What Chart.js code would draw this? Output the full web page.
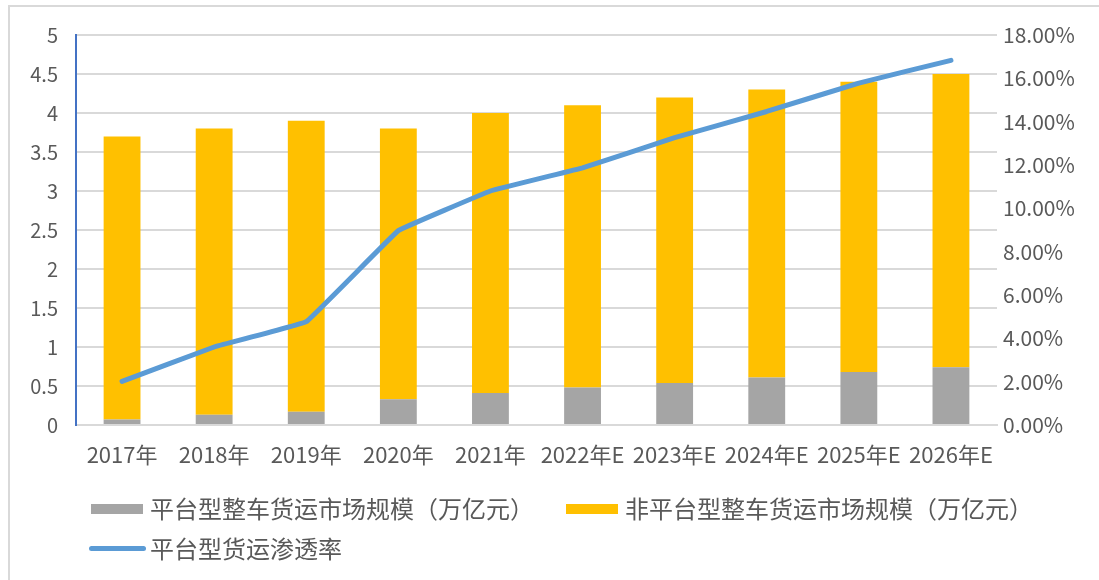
<!DOCTYPE html>
<html>
<head>
<meta charset="utf-8">
<script src="https://cdn.jsdelivr.net/npm/chart.js@4.4.0/dist/chart.umd.min.js"></script>
<style>
  html, body { margin: 0; padding: 0; background: #fff; }
  #wrap { position: relative; width: 1099px; height: 580px; overflow: hidden; }
  #frame { position: absolute; left: 8px; top: 5px; width: 1200px; height: 700px; border: 2px solid #d9d9d9; box-sizing: border-box; }
  #c { position: absolute; left: 0; top: 0; }
  .lg { position: absolute; font-family: "Noto Sans CJK SC", sans-serif; font-size: 24px; color: #595959; line-height: 26px; white-space: nowrap; }
  .sw { position: absolute; }
</style>
</head>
<body>
<div id="wrap">
  <div id="frame"></div>
  <canvas id="c" width="1099" height="580"></canvas>
  <div class="sw" style="left:91px;top:504px;width:52px;height:10px;background:#a5a5a5"></div>
  <div class="lg" style="left:150px;top:495px">平台型整车货运市场规模（万亿元）</div>
  <div class="sw" style="left:566px;top:504px;width:52px;height:10px;background:#ffc000"></div>
  <div class="lg" style="left:625px;top:495px">非平台型整车货运市场规模（万亿元）</div>
  <div class="sw" style="left:89px;top:546px;width:57px;height:5px;border-radius:3px;background:#5b9bd5"></div>
  <div class="lg" style="left:150px;top:535px">平台型货运渗透率</div>
</div>
<script>
const years = ['2017年', '2018年', '2019年', '2020年', '2021年', '2022年E', '2023年E', '2024年E', '2025年E', '2026年E'];
const platformSize = [0.07, 0.13, 0.17, 0.33, 0.41, 0.48, 0.54, 0.61, 0.68, 0.74];      // 万亿元
const nonPlatformSize = [3.63, 3.67, 3.73, 3.47, 3.59, 3.62, 3.66, 3.69, 3.72, 3.76];   // 万亿元
const penetration = [0.0201, 0.036, 0.0477, 0.0897, 0.108, 0.1187, 0.1326, 0.1447, 0.1578, 0.1683];

const tickFont = { family: '"Noto Sans CJK SC", sans-serif', size: 20 };
const tickColor = '#595959';
const gridColor = '#d9d9d9';

const ctx = document.getElementById('c').getContext('2d');
new Chart(ctx, {
  data: {
    labels: years,
    datasets: [
      {
        type: 'line',
        label: '平台型货运渗透率',
        data: penetration,
        yAxisID: 'y1',
        borderColor: '#5b9bd5',
        borderWidth: 5,
        borderCapStyle: 'round',
        borderJoinStyle: 'round',
        pointRadius: 0,
        tension: 0.05,
        order: 0
      },
      {
        type: 'bar',
        label: '平台型整车货运市场规模（万亿元）',
        data: platformSize,
        backgroundColor: '#a5a5a5',
        stack: 's',
        order: 1
      },
      {
        type: 'bar',
        label: '非平台型整车货运市场规模（万亿元）',
        data: nonPlatformSize,
        backgroundColor: '#ffc000',
        stack: 's',
        order: 1
      }
    ]
  },
  options: {
    responsive: false,
    animation: false,
    layout: { padding: { left: 0, right: 0, top: 35, bottom: 105 } },
    datasets: { bar: { barPercentage: 1, categoryPercentage: 0.4 } },
    plugins: {
      legend: { display: false },
      tooltip: { enabled: false }
    },
    scales: {
      x: {
        stacked: true,
        grid: { display: false, drawTicks: false },
        border: { color: gridColor, width: 2 },
        ticks: { color: tickColor, font: { family: tickFont.family, size: 22 }, maxRotation: 0, autoSkip: false, padding: 16 },
        afterFit: s => { s.height = 50; }
      },
      y: {
        stacked: true,
        min: 0,
        max: 5,
        position: 'left',
        grid: { color: gridColor, lineWidth: 2, drawTicks: false },
        border: { color: '#4472c4', width: 2 },
        ticks: { stepSize: 0.5, color: tickColor, font: tickFont, padding: 18, callback: v => String(v) },
        afterFit: s => { s.width = 76; }
      },
      y1: {
        min: 0,
        max: 0.18,
        position: 'right',
        grid: { display: false, drawTicks: false },
        border: { display: false },
        ticks: {
          stepSize: 0.02,
          color: tickColor,
          font: { family: tickFont.family, size: 21 },
          padding: 6,
          callback: v => (v * 100).toFixed(2) + '%'
        },
        afterFit: s => { s.width = 102; }
      }
    }
  }
});
</script>
</body>
</html>
